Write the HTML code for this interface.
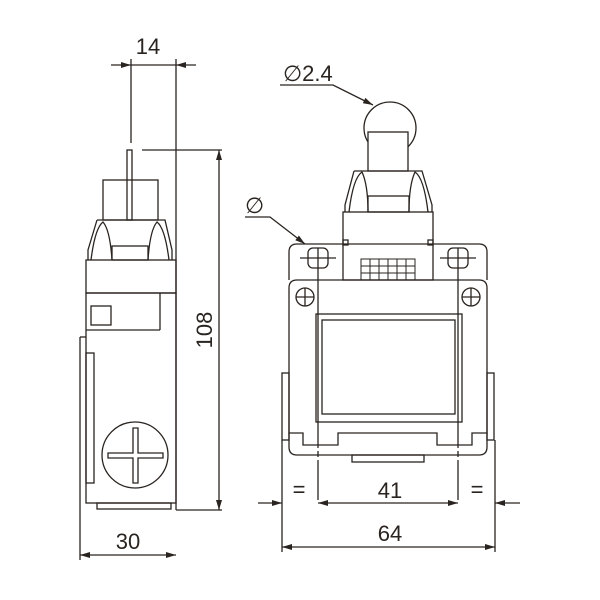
<!DOCTYPE html>
<html><head><style>body{margin:0;background:#fff}svg{display:block}</style></head><body>
<svg width="600" height="600" viewBox="0 0 600 600" xmlns="http://www.w3.org/2000/svg" font-family="Liberation Sans, sans-serif" fill="none" stroke="#2a2420" stroke-width="1.3">
<defs><marker id="a" viewBox="0 0 10 6" refX="10" refY="3" markerWidth="10" markerHeight="6" orient="auto-start-reverse" markerUnits="userSpaceOnUse"><path d="M0,0L10,3L0,6z" fill="#2a2420" stroke="none"/></marker></defs>
<!-- side view -->
<line x1="131" y1="59" x2="131" y2="143"/>
<line x1="176" y1="59" x2="176" y2="510"/>
<line x1="111" y1="65" x2="131" y2="65" marker-end="url(#a)"/>
<line x1="196" y1="65" x2="176" y2="65" marker-end="url(#a)"/>
<line x1="131" y1="65" x2="176" y2="65"/>
<text x="148" y="54" font-size="22" fill="#2a2420" stroke="none" text-anchor="middle">14</text>
<line x1="142" y1="150" x2="222" y2="150"/>
<line x1="176" y1="510" x2="222" y2="510"/>
<line x1="219" y1="150" x2="219" y2="510" marker-start="url(#a)" marker-end="url(#a)"/>
<text transform="translate(212,330) rotate(-90)" font-size="22" fill="#2a2420" stroke="none" text-anchor="middle">108</text>
<rect x="127" y="150" width="5" height="70"/>
<rect x="103" y="180" width="55" height="40"/>
<path d="M97,220 L165,220 L172,250 L172,260 M97,220 L88,250 L88,260"/>
<path d="M91,260 Q95,228 103,222 Q110,230 112,260 M169,260 Q165,228 157,222 Q150,230 148,260"/>
<rect x="112" y="246" width="36" height="14"/>
<rect x="86" y="260" width="90" height="33"/>
<rect x="86" y="293" width="90" height="210"/>
<rect x="91" y="306" width="20" height="19"/>
<line x1="160" y1="293" x2="160" y2="330"/><line x1="86" y1="330" x2="160" y2="330"/>
<rect x="86" y="353" width="8" height="130"/>
<line x1="80" y1="337" x2="80" y2="560"/><line x1="80" y1="337" x2="86" y2="337"/>
<rect x="97" y="503" width="74" height="6"/>
<circle cx="135" cy="455" r="33"/>
<path d="M133,428h5v25h25v5h-25v25h-5v-25h-25v-5h25z"/>
<line x1="80" y1="555" x2="176" y2="555" marker-start="url(#a)" marker-end="url(#a)"/>
<text x="128" y="549" font-size="22" fill="#2a2420" stroke="none" text-anchor="middle">30</text>
<!-- front view -->
<text x="283" y="81" font-size="22" fill="#2a2420" stroke="none">∅2.4</text>
<path d="M280,85 L333,85 L373,105" marker-end="url(#a)"/>
<circle cx="390" cy="128" r="26"/>
<rect x="368" y="132" width="40" height="39" fill="#fff"/>
<path d="M354,171 L422,171 L432,205 L432,212 M354,171 L345,205 L345,212"/>
<path d="M349,212 Q353,178 362,172 Q368,185 368,212 M428,212 Q424,178 415,172 Q409,185 409,212"/>
<rect x="368" y="196" width="41" height="16"/>
<rect x="343" y="212" width="90" height="68"/>
<rect x="343" y="240" width="5" height="5"/><rect x="428" y="240" width="5" height="5"/>
<path d="M289,280 L289,252 Q289,244 297,244 L479,244 Q487,244 487,252 L487,280"/>
<g stroke-width="1">
<rect x="361" y="259" width="54" height="21"/>
<path d="M370,259v21M379,259v21M388,259v21M397,259v21M406,259v21M361,266h54M361,273h54"/>
</g>
<text x="245" y="213" font-size="22" fill="#2a2420" stroke="none">∅</text>
<path d="M245,217 L270,217 L305,244" marker-end="url(#a)"/>
<rect x="308" y="248" width="20" height="20" rx="5"/><rect x="448" y="248" width="20" height="20" rx="5"/>
<path d="M300,258h36M318,248v20M440,258h36M458,248v20"/>
<path d="M297,280 L479,280 Q487,280 487,288 L487,433 L472,433 L472,445 L437,445 L437,433 L338,433 L338,445 L303,445 L303,433 L289,433 L289,288 Q289,280 297,280"/>
<path d="M289,433 L289,447 Q289,455 297,455 L479,455 Q487,455 487,447 L487,433"/>
<rect x="352" y="455" width="72" height="7"/>
<rect x="282" y="373" width="7" height="67"/><rect x="487" y="373" width="7" height="67"/>
<circle cx="305" cy="297" r="9"/><path d="M296,297h18M305,288v18"/>
<circle cx="471" cy="297" r="9"/><path d="M462,297h18M471,288v18"/>
<rect x="316" y="314" width="146" height="108"/>
<rect x="322" y="320" width="133" height="94"/>
<path d="M318,268 V510 M458,268 V510" stroke-dasharray="180 3 6 3 40"/>
<line x1="282" y1="440" x2="282" y2="552"/><line x1="495" y1="440" x2="495" y2="552"/>
<line x1="258" y1="503" x2="282" y2="503" marker-end="url(#a)"/>
<line x1="520" y1="503" x2="495" y2="503" marker-end="url(#a)"/>
<line x1="318" y1="503" x2="458" y2="503" marker-start="url(#a)" marker-end="url(#a)"/>
<line x1="282" y1="547" x2="495" y2="547" marker-start="url(#a)" marker-end="url(#a)"/>
<text x="299" y="497" font-size="22" fill="#2a2420" stroke="none" text-anchor="middle">=</text>
<text x="477" y="497" font-size="22" fill="#2a2420" stroke="none" text-anchor="middle">=</text>
<text x="390" y="498" font-size="22" fill="#2a2420" stroke="none" text-anchor="middle">41</text>
<text x="390" y="541" font-size="22" fill="#2a2420" stroke="none" text-anchor="middle">64</text>
</svg>
</body></html>
